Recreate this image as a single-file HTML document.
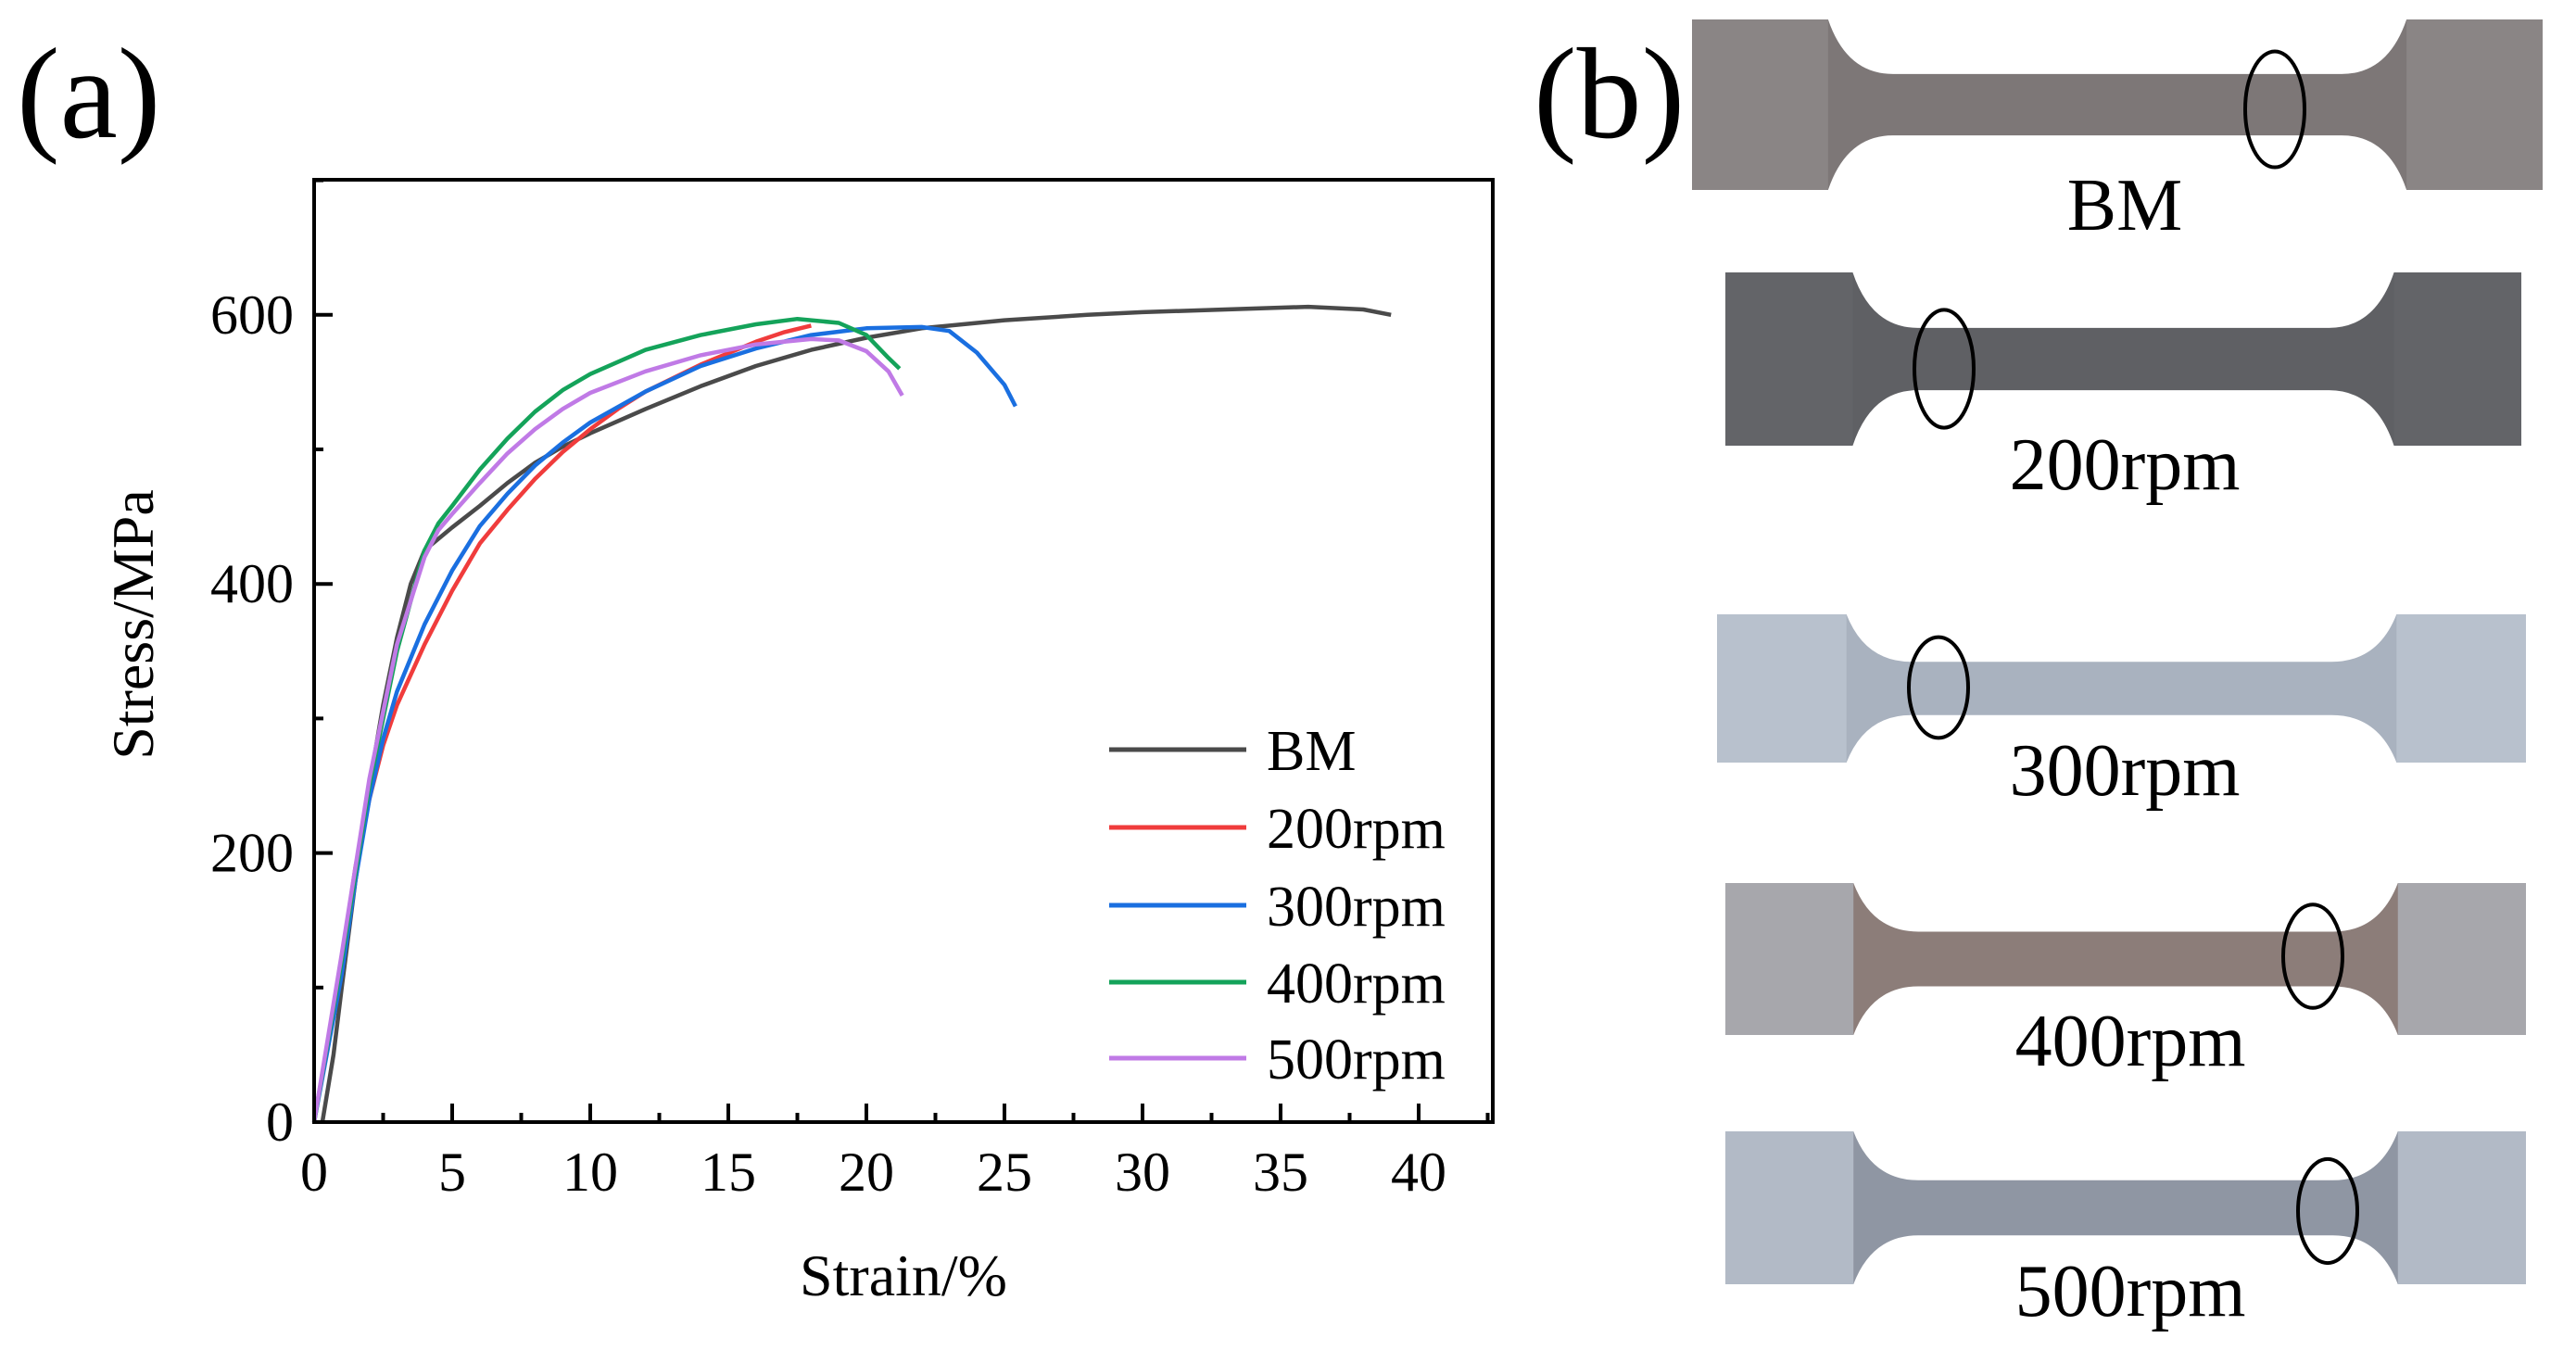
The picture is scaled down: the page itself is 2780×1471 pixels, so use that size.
<!DOCTYPE html>
<html><head><meta charset="utf-8"><style>
html,body{margin:0;padding:0;background:#fff;}
svg{display:block;}
text{font-family:"Liberation Serif",serif;fill:#000;}
</style></head><body>
<svg id="fig" width="2780" height="1471" viewBox="0 0 2780 1471" xmlns="http://www.w3.org/2000/svg">
<text x="18" y="148" font-size="140">(a)</text>
<text x="1655" y="148" font-size="140">(b)</text>
<g id="chart"></g>
<g id="photos"></g>
</svg>
<script>
const strainTicks=[0,5,10,15,20,25,30,35,40];
const stressTicks=[0,200,400,600];
const seriesNames=["BM","200rpm","300rpm","400rpm","500rpm"];
const seriesColors=["#4a4a4a","#f03c3c","#1a6fe0","#14a35a","#c07ae6"];
const bmStrain=[0.3,0.7,1,1.5,2,2.5,3,3.5,4,5,6,7,8,9,10,12,14,16,18,20,22,25,28,30,33,36,38,39];
const bmStress=[0,50,100,180,250,310,360,400,425,442,458,475,490,502,512,530,547,562,574,583,590,596,600,602,604,606,604,600];
const r200Strain=[0,1,1.5,2,2.5,3,4,5,6,7,8,9,10,11,12,14,16,17,18];
const r200Stress=[0,120,190,240,280,310,355,395,430,455,478,498,515,530,543,563,580,587,592];
const r300Strain=[0,1,1.5,2,2.5,3,4,5,6,7,8,9,10,12,14,16,18,20,22,23,24,25,25.4];
const r300Stress=[0,110,180,240,285,320,370,410,443,467,488,505,520,543,562,575,585,590,591,588,572,548,532];
const r400Strain=[0,1,2,3,4,4.5,5,6,7,8,9,10,12,14,16,17.5,19,20,20.8,21.2];
const r400Stress=[0,120,250,350,425,445,458,485,508,528,544,556,574,585,593,597,594,585,568,560];
const r500Strain=[0,1,2,3,4,4.5,5,6,7,8,9,10,12,14,16,18,19,20,20.8,21.3];
const r500Stress=[0,125,255,355,420,440,452,475,497,515,530,542,558,570,578,582,581,573,558,540];

const NS="http://www.w3.org/2000/svg";
const X0=339,Y0=1211,XS=29.8,YS=1.452;
const xs=v=>X0+v*XS, ys=v=>Y0-v*YS;
function mk(tag,attrs,parent,txt){const e=document.createElementNS(NS,tag);for(const k in attrs)e.setAttribute(k,attrs[k]);if(txt!==undefined)e.textContent=txt;parent.appendChild(e);return e;}
const chart=document.getElementById('chart');

const allX=[bmStrain,r200Strain,r300Strain,r400Strain,r500Strain];
const allY=[bmStress,r200Stress,r300Stress,r400Stress,r500Stress];
for(let s=0;s<5;s++){
  const d=allX[s].map((v,i)=>(i?'L':'M')+xs(v).toFixed(1)+','+ys(allY[s][i]).toFixed(1)).join(' ');
  const p=mk('path',{d:d,fill:'none',stroke:seriesColors[s],'stroke-width':4.5,'stroke-linejoin':'round'},chart);
  
  
}
const fr=mk('rect',{x:339,y:194,width:1272,height:1017,fill:'none',stroke:'#000','stroke-width':4},chart);


strainTicks.forEach(v=>{
  const t=mk('line',{x1:xs(v),x2:xs(v),y1:Y0,y2:Y0-20,stroke:'#000','stroke-width':4},chart);
  
  
  const m=mk('line',{x1:xs(v+2.5),x2:xs(v+2.5),y1:Y0,y2:Y0-10,stroke:'#000','stroke-width':4},chart);
  
  
  const l=mk('text',{x:xs(v),y:Y0+74,'font-size':60,'text-anchor':'middle'},chart,String(v));
  
  
});
stressTicks.forEach(v=>{
  const t=mk('line',{x1:X0,x2:X0+20,y1:ys(v),y2:ys(v),stroke:'#000','stroke-width':4},chart);
  
  
  const m=mk('line',{x1:X0,x2:X0+10,y1:ys(v+100),y2:ys(v+100),stroke:'#000','stroke-width':4},chart);
  
  
  const l=mk('text',{x:X0-22,y:ys(v)+20,'font-size':60,'text-anchor':'end'},chart,String(v));
  
  
});
const xt=mk('text',{x:975,y:1398,'font-size':64,'text-anchor':'middle'},chart,'Strain/%');


const yt=mk('text',{x:0,y:0,'font-size':64,'text-anchor':'middle',transform:'translate(165,674) rotate(-90)'},chart,'Stress/MPa');


const legY=[809,893,977,1060,1142];
for(let s=0;s<5;s++){
  const g=mk('g',{},chart);
  
  
  mk('line',{x1:1197,x2:1345,y1:legY[s],y2:legY[s],stroke:seriesColors[s],'stroke-width':5},g);
  mk('text',{x:1367,y:legY[s]+22,'font-size':62},g,seriesNames[s]);
}

const photos=document.getElementById('photos');
const specs=[
 {n:'BM',x1:1826,x2:2744,y1:21,y2:205,fill:'#7d7777',tab:'#8a8585',lbl:2293,ly:248,cx:2455,cy:118},
 {n:'200rpm',x1:1862,x2:2721,y1:294,y2:481,fill:'#5f6064',tab:'#636468',lbl:2293,ly:528,cx:2098,cy:398},
 {n:'300rpm',x1:1853,x2:2726,y1:663,y2:823,fill:'#a9b2bf',tab:'#b8c1cd',lbl:2293,ly:858,cx:2092,cy:742},
 {n:'400rpm',x1:1862,x2:2726,y1:953,y2:1117,fill:'#8c7d79',tab:'#a7a7ac',lbl:2299,ly:1150,cx:2496,cy:1032},
 {n:'500rpm',x1:1862,x2:2726,y1:1221,y2:1386,fill:'#8f96a3',tab:'#b2bac6',lbl:2299,ly:1420,cx:2512,cy:1307}
];
specs.forEach(s=>{
  const g=mk('g',{},photos);
  
  
  const h=s.y2-s.y1,w=s.x2-s.x1,tw=w*0.16,gh=h*0.36,my=(s.y1+s.y2)/2;
  const d=`M${s.x1},${s.y1} H${s.x1+tw} Q${s.x1+tw+20},${my-gh/2} ${s.x1+tw+70},${my-gh/2} H${s.x2-tw-70} Q${s.x2-tw-20},${my-gh/2} ${s.x2-tw},${s.y1} H${s.x2} V${s.y2} H${s.x2-tw} Q${s.x2-tw-20},${my+gh/2} ${s.x2-tw-70},${my+gh/2} H${s.x1+tw+70} Q${s.x1+tw+20},${my+gh/2} ${s.x1+tw},${s.y2} H${s.x1} Z`;
  mk('path',{d:d,fill:s.fill},g);
  mk('rect',{x:s.x1,y:s.y1,width:tw,height:h,fill:s.tab},g);
  mk('rect',{x:s.x2-tw,y:s.y1,width:tw,height:h,fill:s.tab},g);
  mk('ellipse',{cx:s.cx,cy:s.cy,rx:32,ry:h*0.34,fill:'none',stroke:'#000','stroke-width':4},g);
  const t=mk('text',{x:s.lbl,y:s.ly,'font-size':80,'text-anchor':'middle'},photos,s.n);
  
  
});
</script>
</body></html>
